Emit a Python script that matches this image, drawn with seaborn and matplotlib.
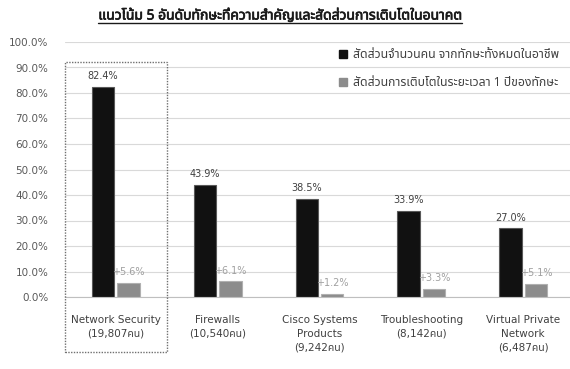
import matplotlib
matplotlib.use("Agg")
import matplotlib.pyplot as plt
import matplotlib.patheffects as pe
from matplotlib.lines import Line2D
from matplotlib.patches import Rectangle
from matplotlib.transforms import blended_transform_factory
import pandas as pd
import seaborn as sns

# Data
skills = [
    "Network Security\n(19,807คน)",
    "Firewalls\n(10,540คน)",
    "Cisco Systems\nProducts\n(9,242คน)",
    "Troubleshooting\n(8,142คน)",
    "Virtual Private\nNetwork\n(6,487คน)",
]
share_pct = [82.4, 43.9, 38.5, 33.9, 27.0]
growth_pct = [5.6, 6.1, 1.2, 3.3, 5.1]
series_names = [
    "สัดส่วนจำนวนคน จากทักษะทั้งหมดในอาชีพ",
    "สัดส่วนการเติบโตในระยะเวลา 1 ปีของทักษะ",
]
title = "แนวโน้ม 5 อันดับทักษะที่ความสำคัญและสัดส่วนการเติบโตในอนาคต"
y_ticks = [0, 10, 20, 30, 40, 50, 60, 70, 80, 90, 100]

bar_colors = ["#111111", "#8c8c8c"]
edge_colors = ["#595959", "#b0b0b0"]
label_colors = ["#404040", "#a0a0a0"]

df = pd.DataFrame({
    "skill": skills * 2,
    "value": share_pct + growth_pct,
    "series": [series_names[0]] * len(skills) + [series_names[1]] * len(skills),
})

sns.set_style("white")
plt.rcParams["font.family"] = ["DejaVu Sans", "Noto Sans Thai"]
thai_family = ["Noto Sans Thai", "DejaVu Sans"]

W, H = 570, 369
fig = plt.figure(figsize=(W / 100, H / 100), dpi=100)
ax = fig.add_axes([65 / W, (H - 297) / H, 509 / W, 255 / H])

sns.barplot(data=df, x="skill", y="value", hue="series", order=skills,
            hue_order=series_names, palette=bar_colors, width=0.5, gap=0.12,
            legend=False, ax=ax)

for cont, ec in zip(ax.containers, edge_colors):
    for p in cont:
        p.set_edgecolor(ec)
        p.set_linewidth(0.8)

ax.bar_label(ax.containers[0], labels=[f"{v:.1f}%" for v in share_pct],
             padding=4, fontsize=7, color=label_colors[0])
ax.bar_label(ax.containers[1], labels=[f"+{v:.1f}%" for v in growth_pct],
             padding=4, fontsize=7, color=label_colors[1])

ax.set_xlim(-0.5, 4.5)
ax.set_ylim(0, 100)
ax.set_yticks(y_ticks)
ax.set_yticklabels([f"{v:.1f}%" for v in y_ticks])
ax.yaxis.grid(True, color="#d9d9d9", linewidth=0.8)
ax.set_axisbelow(True)
ax.set_xlabel("")
ax.set_ylabel("")
for side in ["top", "right", "left"]:
    ax.spines[side].set_visible(False)
ax.spines["bottom"].set_color("#bfbfbf")
ax.tick_params(axis="y", length=0, pad=12, labelsize=7.5, labelcolor="#595959")
ax.tick_params(axis="x", length=0, pad=13, labelsize=7.5, labelcolor="#404040")
for t in ax.get_xticklabels():
    t.set_linespacing(1.45)

# Highlight box around the first skill
trans = blended_transform_factory(ax.transData, ax.transAxes)
ax.add_patch(Rectangle((-0.5, -0.216), 1.0, 0.216 + 0.922, transform=trans,
                       fill=False, edgecolor="#707070", linestyle=(0, (1, 1)),
                       linewidth=1.0, clip_on=False, zorder=5))

# Legend
handles = [Line2D([], [], marker="s", linestyle="none", markersize=6,
                  markerfacecolor=c, markeredgecolor=c) for c in bar_colors]
leg = fig.legend(handles, series_names, loc="upper left",
                 bbox_to_anchor=(332 / W, (H - 42) / H), frameon=False,
                 handlelength=0.8, handletextpad=0.4, labelspacing=1.25,
                 borderpad=0, prop={"family": thai_family, "size": 8.8})
for t in leg.get_texts():
    t.set_color("#404040")

# Title with underline
ttl = fig.text(280 / W, (H - 16) / H, title, ha="center", va="center",
               fontsize=10, fontweight="bold", color="#1a1a1a", family=thai_family,
               path_effects=[pe.withStroke(linewidth=0.5, foreground="#1a1a1a")])
fig.canvas.draw()
bb = ttl.get_window_extent(fig.canvas.get_renderer())
fig.add_artist(Line2D([bb.x0 / W, bb.x1 / W], [(bb.y0 + 1) / H, (bb.y0 + 1) / H],
                      transform=fig.transFigure, color="#1a1a1a", linewidth=1.0))

fig.savefig("out.png", dpi=100)
